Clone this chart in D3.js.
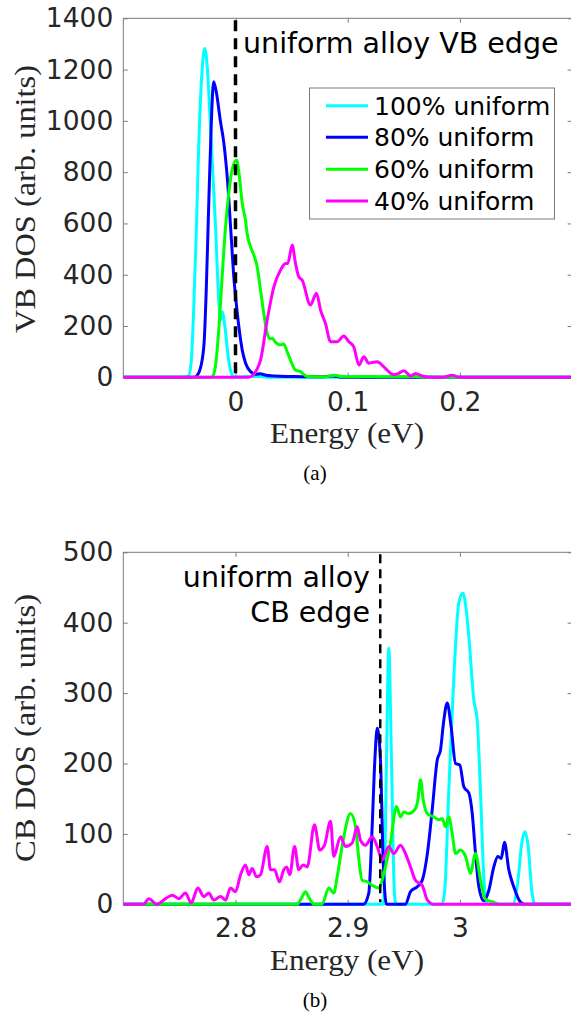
<!DOCTYPE html>
<html><head><meta charset="utf-8">
<script src="https://cdn.jsdelivr.net/npm/d3@7"></script>
<style>body{margin:0;background:#fff}</style>
</head><body><svg id="c" width="571" height="1019"></svg>
<script>
// ---------- data ----------
const seriesNames = ["100% uniform", "80% uniform", "60% uniform", "40% uniform"];
const seriesColors = ["#00ffff", "#0000ff", "#00ff00", "#ff00ff"];

const vbTicksX = [0, 0.1, 0.2];
const vbTicksY = [0, 200, 400, 600, 800, 1000, 1200, 1400];
const cbTicksX = [2.8, 2.9, 3];
const cbTicksY = [0, 100, 200, 300, 400, 500];
const vbEdge = 0;
const cbEdge = 2.929;

const vb100 = [[-0.1,0],[-0.046,0],[-0.042,5],[-0.0395,60],[-0.0373,262],[-0.035,560],[-0.0327,914],[-0.030,1180],[-0.0275,1282],[-0.025,1200],[-0.0223,977],[-0.020,780],[-0.0178,587],[-0.0148,290],[-0.0134,223],[-0.0118,255],[-0.0095,200],[-0.0065,80],[-0.004,20],[-0.002,4],[0,2],[0.01,3],[0.02,4],[0.03,0],[0.3,0]];
const vb80 = [[-0.1,0],[-0.037,0],[-0.034,8],[-0.031,40],[-0.028,134],[-0.026,350],[-0.024,652],[-0.0215,1000],[-0.0195,1153],[-0.017,1110],[-0.0135,1000],[-0.0104,914],[-0.007,760],[-0.004,560],[-0.0015,392],[0.001,275],[0.0035,180],[0.006,106],[0.009,55],[0.0134,22],[0.018,12],[0.022,14],[0.027,8],[0.035,5],[0.05,3],[0.06,2],[0.075,2],[0.087,5],[0.094,0],[0.3,0]];
const vb60 = [[-0.1,0],[-0.022,0],[-0.0205,3],[-0.018,40],[-0.015,180],[-0.0119,392],[-0.009,580],[-0.006,718],[-0.003,810],[0.0009,847],[0.003,800],[0.006,679],[0.0089,612],[0.0104,560],[0.0134,509],[0.0165,475],[0.0193,431],[0.022,350],[0.0252,250],[0.0282,172],[0.031,150],[0.0327,152],[0.036,135],[0.0401,126],[0.043,130],[0.046,100],[0.049,67],[0.0535,28],[0.058,22],[0.0639,3],[0.08,2],[0.089,8],[0.095,2],[0.12,3],[0.14,2],[0.16,3],[0.17,0],[0.3,0]];
const vb40 = [[-0.1,0],[0.012,0],[0.0155,8],[0.019,30],[0.0223,67],[0.0282,223],[0.0342,353],[0.0401,418],[0.0446,444],[0.0466,444],[0.0505,516],[0.0535,444],[0.0564,392],[0.0594,379],[0.0668,282],[0.0722,328],[0.0758,262],[0.0802,210],[0.0847,139],[0.0906,139],[0.0965,161],[0.101,139],[0.1054,119],[0.110,48],[0.1144,80],[0.1188,55],[0.1262,61],[0.1322,41],[0.1381,16],[0.1411,10],[0.145,14],[0.150,26],[0.156,5],[0.1604,15],[0.1664,5],[0.171,1],[0.185,0],[0.193,8],[0.2,0],[0.3,0]];

const cb100 = [[2.7,0],[2.931,0],[2.9322,5],[2.9346,205],[2.9366,364],[2.939,205],[2.9415,20],[2.943,0],[2.984,0],[2.9865,20],[2.990,158],[2.9946,323],[2.999,428],[3.0026,442],[3.0055,420],[3.008,380],[3.0124,290],[3.0154,262],[3.0184,158],[3.0213,39],[3.0243,0],[3.047,0],[3.0515,30],[3.055,85],[3.0578,103],[3.061,80],[3.064,20],[3.067,0],[3.1,0]];
const cb80 = [[2.7,0],[2.914,0],[2.9188,16],[2.9218,110],[2.9242,205],[2.9263,250],[2.9292,205],[2.9316,63],[2.9346,0],[2.9515,0],[2.956,18],[2.962,25],[2.9664,34],[2.971,72],[2.9753,134],[2.9798,205],[2.9827,219],[2.9857,262],[2.9887,286],[2.9922,252],[2.9961,200],[2.9999,198],[3.0035,167],[3.008,158],[3.011,129],[3.0139,72],[3.0169,25],[3.0213,5],[3.0258,20],[3.0302,53],[3.0338,68],[3.0368,65],[3.0397,88],[3.0436,49],[3.048,25],[3.054,3],[3.058,0],[3.1,0]];
const cb60 = [[2.7,0],[2.855,0],[2.8585,8],[2.8624,18],[2.866,8],[2.870,0],[2.877,0],[2.8832,23],[2.8876,16],[2.8906,39],[2.8965,96],[2.9025,129],[2.907,110],[2.910,63],[2.9129,34],[2.9174,32],[2.9218,27],[2.9277,23],[2.9322,44],[2.9381,87],[2.9435,139],[2.947,124],[2.95,131],[2.9545,129],[2.9604,136],[2.9625,148],[2.9649,177],[2.9673,148],[2.9709,129],[2.9768,124],[2.9812,120],[2.9842,122],[2.9872,110],[2.9901,124],[2.9931,101],[2.9961,72],[3.0005,77],[3.005,68],[3.0094,44],[3.0139,72],[3.0184,34],[3.0228,7],[3.0302,3],[3.035,0],[3.1,0]];
const cb40 = [[2.7,0],[2.718,0],[2.7227,8],[2.73,0],[2.7376,8],[2.7436,13],[2.7495,8],[2.7554,16],[2.7605,2],[2.7664,23],[2.7718,11],[2.7762,16],[2.7807,6],[2.7866,11],[2.7911,6],[2.7955,23],[2.8,18],[2.8045,42],[2.8089,56],[2.8119,42],[2.8149,51],[2.8187,39],[2.8223,42],[2.8282,82],[2.8312,49],[2.8348,49],[2.8392,32],[2.843,49],[2.8455,53],[2.8484,42],[2.8526,82],[2.8564,49],[2.8603,56],[2.8639,53],[2.8704,113],[2.8751,77],[2.8793,84],[2.8847,118],[2.8876,68],[2.8936,96],[2.898,82],[2.904,87],[2.9085,110],[2.9114,91],[2.9159,84],[2.9218,96],[2.9263,82],[2.9307,63],[2.9366,82],[2.9411,72],[2.947,84],[2.9515,72],[2.956,53],[2.9604,34],[2.9664,27],[2.971,6],[2.9768,0],[3.1,0]];

// ---------- drawing ----------
const svg = d3.select("#c");
const SANS = "DejaVu Sans";
const SERIF = "Liberation Serif";
const axisColor = "#262626";
const L = 123.3, R = 572.1;

function panel(o) {
  const x = d3.scaleLinear().domain(o.xDomain).range([L, R]);
  const y = d3.scaleLinear().domain(o.yDomain).range([o.bottom, o.top]);
  const g = svg.append("g");
  const clipId = "clip" + o.id;
  svg.append("clipPath").attr("id", clipId).append("rect")
    .attr("x", L).attr("y", o.top - 3).attr("width", R - L).attr("height", o.bottom - o.top + 6);

  g.append("rect").attr("x", L).attr("y", o.top).attr("width", R - L).attr("height", o.bottom - o.top)
    .attr("fill", "none").attr("stroke", "#7a7a7a").attr("stroke-width", 1);

  const tl = 4.5;
  const ax = g.append("g").attr("transform", `translate(0,${o.bottom})`)
    .call(d3.axisBottom(x).tickValues(o.xTicks).tickSize(-tl).tickPadding(o.xPad).tickFormat(d3.format("")));
  const axT = g.append("g").attr("transform", `translate(0,${o.top})`)
    .call(d3.axisTop(x).tickValues(o.xTicks).tickSize(-tl).tickFormat(""));
  const ay = g.append("g").attr("transform", `translate(${L},0)`)
    .call(d3.axisLeft(y).tickValues(o.yTicks).tickSize(-tl).tickPadding(10).tickFormat(d3.format("")));
  const ayR = g.append("g").attr("transform", `translate(${R},0)`)
    .call(d3.axisRight(y).tickValues(o.yTicks).tickSize(-tl).tickFormat(""));
  [ax, axT, ay, ayR].forEach(a => {
    a.select(".domain").remove();
    a.selectAll(".tick line").attr("stroke", "#7a7a7a");
    a.selectAll("text").attr("font-family", SANS).attr("font-size", 26.5).attr("fill", axisColor);
  });

  const line = d3.line().x(d => x(d[0])).y(d => y(d[1])).curve(d3.curveMonotoneX);
  const lines = g.append("g").attr("clip-path", `url(#${clipId})`);
  o.series.forEach((s, i) => {
    lines.append("path").datum(s).attr("d", line).attr("fill", "none")
      .attr("stroke", seriesColors[i]).attr("stroke-width", 3).attr("stroke-linejoin", "round");
  });

  g.append("line").attr("x1", x(o.edge)).attr("x2", x(o.edge))
    .attr("y1", o.top + 2).attr("y2", o.bottom - 2)
    .attr("stroke", "#000").attr("stroke-width", o.dashW).attr("stroke-dasharray", o.dash);

  g.append("text").attr("x", 347).attr("y", o.bottom + 66)
    .attr("text-anchor", "middle").attr("font-family", SERIF).attr("font-size", 29)
    .attr("fill", axisColor).attr("textLength", 154).attr("lengthAdjust", "spacingAndGlyphs")
    .text("Energy (eV)");
  g.append("text").attr("transform", `translate(35,${o.yLabelC}) rotate(-90)`)
    .attr("text-anchor", "middle").attr("font-family", SERIF).attr("font-size", 29)
    .attr("fill", axisColor).attr("textLength", 268).attr("lengthAdjust", "spacingAndGlyphs")
    .text(o.yLabel);
  g.append("text").attr("x", 315).attr("y", o.bottom + 103)
    .attr("text-anchor", "middle").attr("font-family", SERIF).attr("font-size", 21)
    .attr("fill", "#000").text(o.caption);
  return { x, y, g };
}

const p1 = panel({
  id: 1, xDomain: [-0.1, 0.3], yDomain: [0, 1400], top: 18.3, bottom: 377.3, xPad: 14.5,
  xTicks: vbTicksX, yTicks: vbTicksY, series: [vb100, vb80, vb60, vb40],
  edge: vbEdge, dashW: 3.5, dash: "11,7", yLabel: "VB DOS (arb. units)", yLabelC: 199, caption: "(a)"
});
p1.g.append("text").attr("x", 243).attr("y", 53).attr("font-family", SANS).attr("font-size", 28.5)
  .attr("fill", "#000").text("uniform alloy VB edge");

const lg = p1.g.append("g");
lg.append("rect").attr("x", 309.5).attr("y", 88).attr("width", 245).attr("height", 131)
  .attr("fill", "#fff").attr("stroke", "#7a7a7a").attr("stroke-width", 1);
const rowY = [105.7, 137.3, 169.3, 201];
seriesNames.forEach((n, i) => {
  lg.append("line").attr("x1", 326).attr("x2", 368).attr("y1", rowY[i]).attr("y2", rowY[i])
    .attr("stroke", seriesColors[i]).attr("stroke-width", 3);
  lg.append("text").attr("x", 374).attr("y", rowY[i]).attr("dy", "0.36em")
    .attr("font-family", SANS).attr("font-size", 25).attr("fill", "#000").text(n);
});

const p2 = panel({
  id: 2, xDomain: [2.7, 3.1], yDomain: [0, 500], top: 552.3, bottom: 904.3, xPad: 14,
  xTicks: cbTicksX, yTicks: cbTicksY, series: [cb100, cb80, cb60, cb40],
  edge: cbEdge, dashW: 2.5, dash: "9,6", yLabel: "CB DOS (arb. units)", yLabelC: 728, caption: "(b)"
});
p2.g.append("text").attr("x", 370).attr("y", 587).attr("text-anchor", "end")
  .attr("font-family", SANS).attr("font-size", 28.5).attr("fill", "#000").text("uniform alloy");
p2.g.append("text").attr("x", 370).attr("y", 622).attr("text-anchor", "end")
  .attr("font-family", SANS).attr("font-size", 28.5).attr("fill", "#000").text("CB edge");
</script></body></html>
